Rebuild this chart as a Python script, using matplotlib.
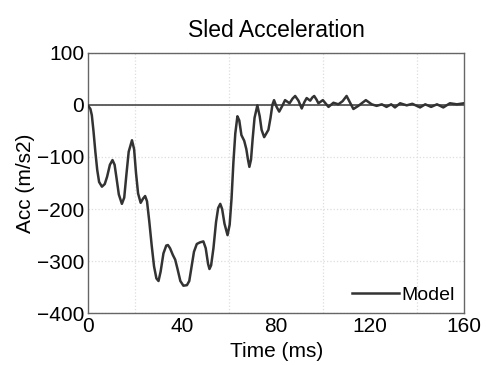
import matplotlib
matplotlib.use("Agg")
import matplotlib.pyplot as plt

plt.rcParams['font.family'] = ['Liberation Sans', 'DejaVu Sans']

# values
time_ms = [0, 0.9, 1.5, 2.2, 3, 3.8, 4.6, 5.8, 7, 8, 9.2, 10.3, 11.2, 12, 13, 14.3,
           15.3, 16.2, 17.2, 18.6, 19.5, 20.3, 21.2, 22.3, 23.3, 24.2, 25, 26, 27,
           28, 29, 29.9, 30.8, 32, 33.2, 33.9, 34.8, 36, 37, 38, 39.2, 40.5, 42, 43,
           44, 45, 46.2, 47.5, 49, 50, 51, 51.6, 52.3, 53.3, 54.4, 55.3, 56.2, 57,
           58, 59.3, 60.2, 61, 61.8, 62.6, 63.5, 64.3, 65.2, 66.4, 67.3, 68, 68.6,
           69.3, 70, 70.8, 72, 73, 73.8, 74.9, 75.8, 76.7, 77.6, 78.4, 79.1, 80.2,
           81.3, 82.5, 83.8, 85.7, 87, 88.1, 89.5, 90.9, 92, 93, 94.5, 95.4, 96.2,
           97.2, 98, 99.9, 102.3, 104.4, 106.5, 108.3, 110, 112.9, 115, 118.2,
           120.7, 122.8, 125, 127, 129, 130.6, 132.8, 135.6, 138, 141.3, 143.5,
           146, 148.5, 151.2, 154, 157, 160]
acc = [-2, -8, -20, -50, -90, -125, -148, -157, -152, -138, -115, -106, -115, -140,
       -172, -190, -178, -135, -90, -68, -85, -130, -170, -188, -180, -175, -185,
       -225, -270, -310, -333, -338, -320, -285, -270, -269, -275, -288, -297, -315,
       -338, -347, -346, -338, -310, -282, -267, -264, -262, -275, -305, -315, -308,
       -275, -225, -198, -190, -200, -228, -250, -230, -180, -110, -55, -22, -30,
       -58, -69, -85, -105, -119, -105, -65, -25, -1, -22, -48, -62, -55, -48, -25,
       0, 9, -4, -13, -3, 9, 3, 12, 17, 8, -7, 5, 13, 8, 14, 17, 10, 3, 9, -4, 4,
       1, 7, 17, -8, -2, 9, 1, -2, 1, -4, 1, -5, 3, -1, 2, -5, 1, -4, 1, -5, 3, 1,
       3]

xticks = [0, 40, 80, 120, 160]
yticks = [100, 0, -100, -200, -300, -400]

fig = plt.figure(figsize=(4.86, 3.65), dpi=100)
ax = fig.add_axes([0.1817, 0.1416, 0.773, 0.714])

ax.plot(time_ms, acc, color='#333333', lw=1.8, label='Model', zorder=3)
ax.axhline(0, color='#555555', lw=1.3, zorder=2.5)

ax.set_xlim(0, 160)
ax.set_ylim(-400, 100)
ax.set_xticks(xticks)
ax.set_yticks(yticks)
ax.set_xticks(range(0, 161, 20), minor=True)
ax.tick_params(which='both', length=0, labelsize=15, pad=3)

ax.grid(True, which='minor', axis='x', color='#dddddd', ls=':', lw=0.9)
ax.grid(True, which='major', axis='y', color='#dddddd', ls=':', lw=0.9)

for s in ax.spines.values():
    s.set_color('#666666')
    s.set_linewidth(1.0)

ax.set_title('Sled Acceleration', fontsize=16.5, pad=11)
ax.set_xlabel('Time (ms)', fontsize=15, labelpad=4)
ax.set_ylabel('Acc (m/s2)', fontsize=15, labelpad=1)

ax.legend(loc='lower right', frameon=False, fontsize=14, handlelength=2.4,
          handletextpad=0.1, borderaxespad=0.1)

fig.savefig('out.png', dpi=100)
